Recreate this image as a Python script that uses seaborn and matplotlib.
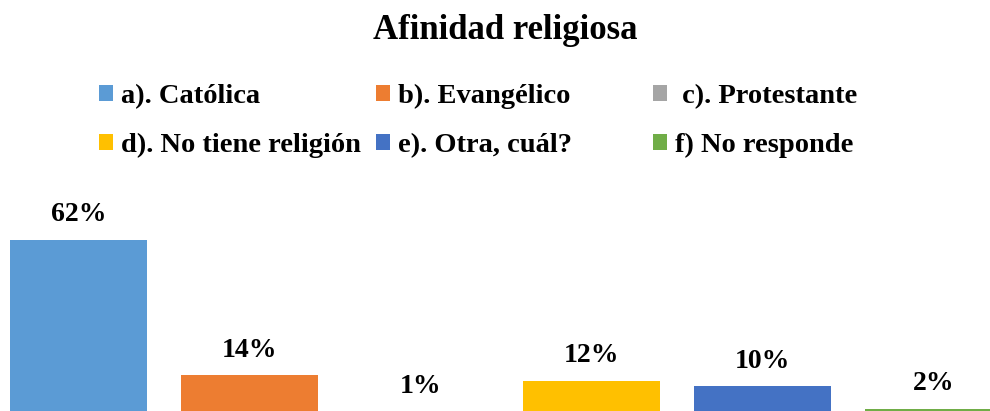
import matplotlib
matplotlib.use("Agg")
import matplotlib.pyplot as plt
import seaborn as sns
import pandas as pd

# ---- data ----
categorias = ["a). Católica", "b). Evangélico", " c). Protestante",
              "d). No tiene religión", "e). Otra, cuál?", "f) No responde"]
porcentajes = [62, 14, 1, 12, 10, 2]
etiquetas = ["62%", "14%", "1%", "12%", "10%", "2%"]
colores = ["#5B9BD5", "#ED7D31", "#A5A5A5", "#FFC000", "#4472C4", "#70AD47"]
titulo = "Afinidad religiosa"

sns.set_theme(style="white")
plt.rcParams['font.family'] = ['Liberation Serif', 'DejaVu Serif']
plt.rcParams['font.weight'] = 'bold'
plt.rcParams['text.color'] = 'black'

W, H = 990, 411
fig = plt.figure(figsize=(W / 100, H / 100), dpi=100)
base = 414.6
k = 2.817
ax = fig.add_axes([-7 / W, (H - base) / H, 1026 / W, 70 * k / H])

df = pd.DataFrame({"cat": categorias, "val": porcentajes})
sns.barplot(data=df, x="cat", y="val", hue="cat", order=categorias,
            hue_order=categorias, palette=colores, width=0.8,
            saturation=1, ax=ax, legend=True, linewidth=0)

ax.set_xlim(-0.5, len(categorias) - 0.5)
ax.set_ylim(0, 70)

for cont in ax.containers:
    labs = []
    for bar in cont:
        idx = int(round(bar.get_x() + bar.get_width() / 2))
        labs.append(etiquetas[idx])
    ax.bar_label(cont, labels=labs, padding=9, fontsize=20,
                 fontweight='bold', color='black')

handles, labels = ax.get_legend_handles_labels()
if ax.get_legend() is not None:
    ax.get_legend().remove()
ax.axis('off')

cols = [(0, 3), (1, 4), (2, 5)]
xs = [99, 376, 653]
for col, x in zip(cols, xs):
    fig.legend([handles[i] for i in col], [labels[i] for i in col],
               loc='upper left', bbox_to_anchor=(x / W, 1 - 84 / H),
               frameon=False, borderpad=0, borderaxespad=0,
               handlelength=0.5, handleheight=0.5, handletextpad=0.29,
               labelspacing=0.84, labelcolor='black',
               prop=dict(family='Liberation Serif', weight='bold', size=20.5))

fig.text(505 / W, 1 - 39 / H, titulo, ha='center', va='baseline',
         fontsize=25, fontweight='bold', color='black')

fig.savefig('out.png', dpi=100)
